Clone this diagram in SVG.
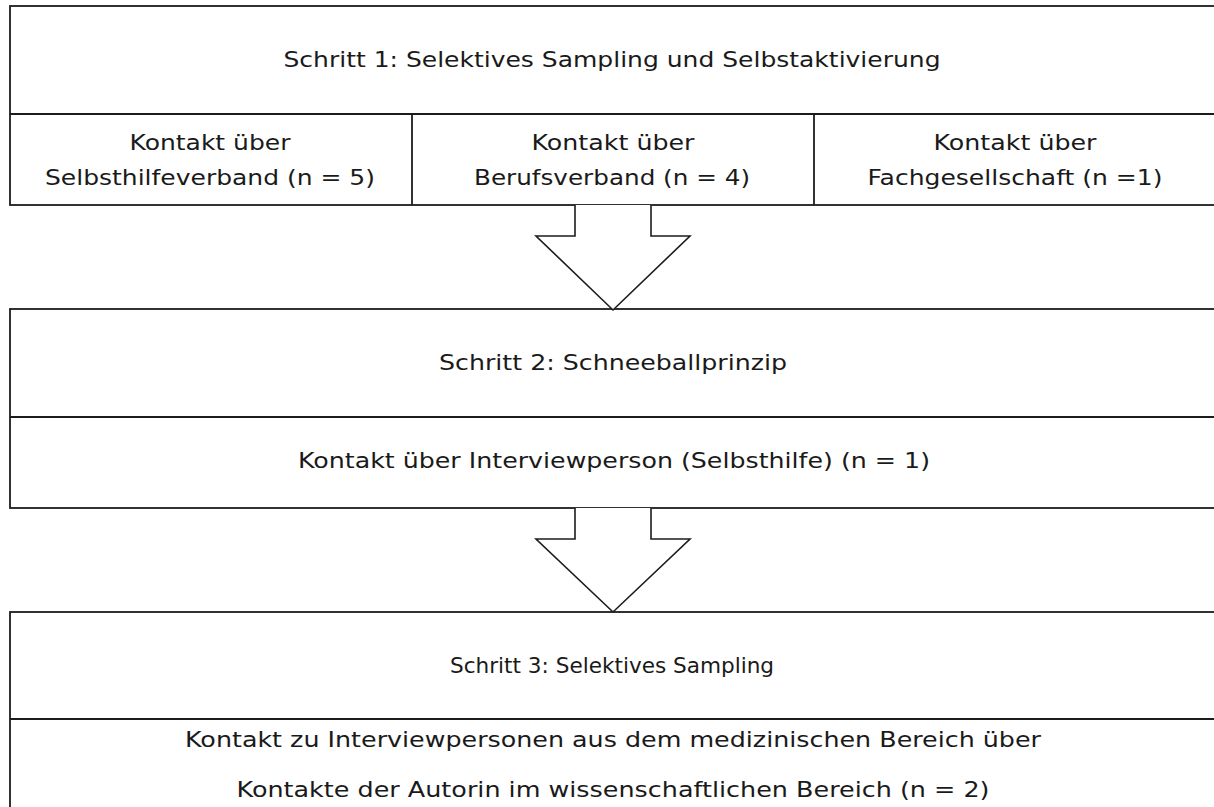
<svg xmlns="http://www.w3.org/2000/svg" width="1214" height="807" viewBox="0 0 1214 807">
  <style>
    .box { fill: #ffffff; stroke: #1c1c1c; stroke-width: 1.8; }
    .div { stroke: #1c1c1c; stroke-width: 1.8; fill: none; }
    .arrow { fill: #ffffff; stroke: #1c1c1c; stroke-width: 1.6; stroke-linejoin: miter; }
    text { font-family: "DejaVu Sans", "Liberation Sans", sans-serif; font-size: 22px; fill: #1a1a1a; text-anchor: middle; }
    .small { font-size: 20.5px; }
  </style>
  <rect width="1214" height="807" fill="#ffffff"/>

  <!-- Step 1 -->
  <g id="step1">
    <rect class="box" x="10" y="6" width="1207" height="199"/>
    <line class="div" x1="10" y1="114" x2="1217" y2="114"/>
    <line class="div" x1="412" y1="114" x2="412" y2="205"/>
    <line class="div" x1="814" y1="114" x2="814" y2="205"/>
    <text x="612" y="67" textLength="657" lengthAdjust="spacingAndGlyphs">Schritt 1: Selektives Sampling und Selbstaktivierung</text>
  </g>
  <g id="step1-selbsthilfe">
    <text x="210" y="150" textLength="161" lengthAdjust="spacingAndGlyphs">Kontakt über</text>
    <text x="210" y="185" textLength="330" lengthAdjust="spacingAndGlyphs">Selbsthilfeverband (n = 5)</text>
  </g>
  <g id="step1-beruf">
    <text x="613" y="150" textLength="163" lengthAdjust="spacingAndGlyphs">Kontakt über</text>
    <text x="612" y="185" textLength="276" lengthAdjust="spacingAndGlyphs">Berufsverband (n = 4)</text>
  </g>
  <g id="step1-fach">
    <text x="1015" y="150" textLength="163" lengthAdjust="spacingAndGlyphs">Kontakt über</text>
    <text x="1015" y="185" textLength="295" lengthAdjust="spacingAndGlyphs">Fachgesellschaft (n =1)</text>
  </g>

  <!-- Step 2 -->
  <g id="step2">
    <rect class="box" x="10" y="309" width="1207" height="199"/>
    <line class="div" x1="10" y1="417" x2="1217" y2="417"/>
    <text x="613" y="370" textLength="348" lengthAdjust="spacingAndGlyphs">Schritt 2: Schneeballprinzip</text>
    <text x="614" y="468" textLength="632" lengthAdjust="spacingAndGlyphs">Kontakt über Interviewperson (Selbsthilfe) (n = 1)</text>
  </g>

  <!-- Step 3 -->
  <g id="step3">
    <rect class="box" x="10" y="612" width="1207" height="210"/>
    <line class="div" x1="10" y1="719" x2="1217" y2="719"/>
    <text class="small" x="612" y="673" textLength="324" lengthAdjust="spacingAndGlyphs">Schritt 3: Selektives Sampling</text>
    <text x="613" y="747" textLength="856" lengthAdjust="spacingAndGlyphs">Kontakt zu Interviewpersonen aus dem medizinischen Bereich über</text>
    <text x="613" y="797" textLength="753" lengthAdjust="spacingAndGlyphs">Kontakte der Autorin im wissenschaftlichen Bereich (n = 2)</text>
  </g>

  <!-- Block arrows between the steps -->
  <g id="connectors">
    <polyline class="arrow" points="575,205 575,236 536,236 613,310 690,236 651,236 651,205"/>
    <polyline class="arrow" points="575,508 575,539 536,539 613,612 690,539 651,539 651,508"/>
  </g>
</svg>
